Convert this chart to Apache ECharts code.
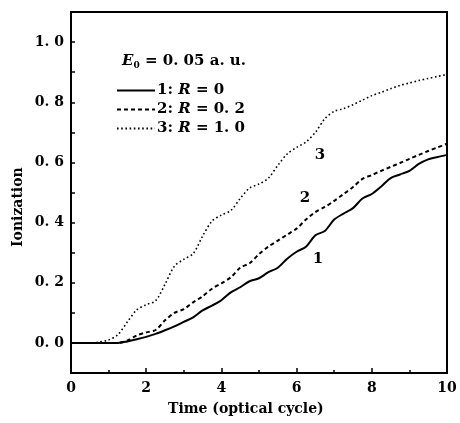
<!DOCTYPE html>
<html><head><meta charset="utf-8">
<script src="https://cdn.jsdelivr.net/npm/echarts@6/dist/echarts.min.js"></script>
<style>html,body{margin:0;padding:0;background:#fff}#c{width:460px;height:423px}</style>
</head><body><div id="c"></div>
<script>
const time = [0,0.25,0.5,0.75,1,1.25,1.5,1.75,2,2.25,2.5,2.75,3,3.25,3.5,3.75,4,4.25,4.5,4.75,5,5.25,5.5,5.75,6,6.25,6.5,6.75,7,7.25,7.5,7.75,8,8.25,8.5,8.75,9,9.25,9.5,9.75,10];
const ionR0 = [0,0,0,0,0,0,0.005,0.012,0.02,0.03,0.042,0.055,0.07,0.085,0.108,0.124,0.142,0.168,0.185,0.205,0.215,0.235,0.25,0.28,0.303,0.32,0.358,0.372,0.41,0.43,0.448,0.48,0.495,0.52,0.548,0.56,0.572,0.595,0.61,0.618,0.625];
const ionR02 = [0,0,0,0,0,0,0.008,0.025,0.035,0.043,0.075,0.1,0.112,0.135,0.155,0.18,0.198,0.218,0.25,0.265,0.295,0.32,0.34,0.36,0.38,0.41,0.435,0.452,0.472,0.495,0.518,0.545,0.558,0.572,0.585,0.598,0.612,0.625,0.638,0.65,0.662];
const ionR1 = [0,0,0,0.003,0.01,0.028,0.07,0.11,0.127,0.14,0.195,0.255,0.278,0.297,0.355,0.405,0.425,0.44,0.48,0.515,0.528,0.548,0.59,0.628,0.65,0.668,0.7,0.745,0.77,0.779,0.792,0.807,0.822,0.833,0.845,0.856,0.864,0.872,0.879,0.886,0.892];
const seriesNames = ['1: R = 0','2: R = 0.2','3: R = 1.0'];
const legendLabels = ['1: {i|R} = 0','2: {i|R} = 0. 2','3: {i|R} = 1. 0'];
const yTickLabels = [0,0.2,0.4,0.6,0.8,1.0];
const xTickLabels = [0,2,4,6,8,10];
const curveLabels = [{text:'1', t:6.57, v:0.28},{text:'2', t:6.22, v:0.48},{text:'3', t:6.62, v:0.623}];

const FONT = 'DejaVu Serif';
const chart = echarts.init(document.getElementById('c'), null, {renderer:'canvas'});
const pair = arr => time.map((t,i)=>[t,arr[i]]);
const grid = {left:71, right:13, top:12, bottom:50, show:true, borderColor:'#000', borderWidth:2};
function mk(idx){
  const c = curveLabels[idx];
  return {symbol:'circle', symbolSize:18, silent:true, itemStyle:{color:'rgba(0,0,0,0)'},
    label:{show:true, formatter:c.text, color:'#000', fontFamily:FONT, fontWeight:'bold', fontSize:15, position:'inside'},
    data:[{coord:[c.t,c.v]}]};
}
const styles = [
  {type:'solid', width:2},
  {type:[4,3], width:2},
  {type:[1.6,2.6], width:1.6}
];
const datas = [ionR0, ionR02, ionR1];
chart.setOption({
  animation:false,
  grid: grid,
  xAxis: {type:'value', min:0, max:10, interval:2,
    axisLine:{onZero:false, lineStyle:{color:'#000', width:2}},
    axisTick:{inside:true, length:5, lineStyle:{color:'#000', width:1.5}},
    minorTick:{show:true, splitNumber:2, length:3, lineStyle:{color:'#000', width:1.5}},
    splitLine:{show:false},
    axisLabel:{color:'#000', fontFamily:FONT, fontWeight:'bold', fontSize:14, margin:8,
      formatter: v => xTickLabels.includes(v) ? String(v) : ''}
  },
  yAxis: {type:'value', min:-0.1, max:1.1, interval:0.1,
    axisLine:{onZero:false, lineStyle:{color:'#000', width:2}},
    axisTick:{inside:true, length:4, lineStyle:{color:'#000', width:1.5}},
    splitLine:{show:false},
    axisLabel:{color:'#000', fontFamily:FONT, fontWeight:'bold', fontSize:14, margin:7,
      formatter: v => {
        const k = Math.round(v*10);
        return (k >= 0 && k % 2 === 0 && yTickLabels.includes(k/10)) ? (k/10).toFixed(1).replace('.', '. ') : '';
      }}
  },
  legend: {orient:'vertical', left:111, top:78, itemWidth:38, itemHeight:12, itemGap:4,
    selectedMode:false,
    itemStyle:{opacity:0},
    data: seriesNames,
    formatter: name => legendLabels[seriesNames.indexOf(name)],
    textStyle:{color:'#000', fontFamily:FONT, fontWeight:'bold', fontSize:15, padding:[0,0,0,-3],
      rich:{i:{fontFamily:FONT, fontWeight:'bold', fontStyle:'italic', fontSize:15, color:'#000'}}}
  },
  graphic: [
    {type:'text', left:122, top:54, style:{text:'{i|E}{s|0} = 0. 05 a. u.', fill:'#000', font:'bold 15px "'+FONT+'"',
      rich:{i:{fontStyle:'italic', fontWeight:'bold', fontFamily:FONT, fontSize:15}, s:{fontWeight:'bold', fontFamily:FONT, fontSize:9, padding:[8,0,0,0]}}}},
    {type:'text', left:168, top:402, style:{text:'Time (optical cycle)', fill:'#000', font:'bold 14px "'+FONT+'"'}},
    {type:'text', x:11, y:247, rotation:Math.PI/2, style:{text:'Ionization', fill:'#000', font:'bold 14px "'+FONT+'"', verticalAlign:'top'}}
  ],
  series: datas.map((d,i)=>({
    name: seriesNames[i], type:'line', data: pair(d), showSymbol:false, symbol:'none', smooth:0.3,
    lineStyle:{color:'#000', type:styles[i].type, width:styles[i].width},
    itemStyle:{color:'#000'},
    markPoint: mk(i)
  }))
});
</script></body></html>
